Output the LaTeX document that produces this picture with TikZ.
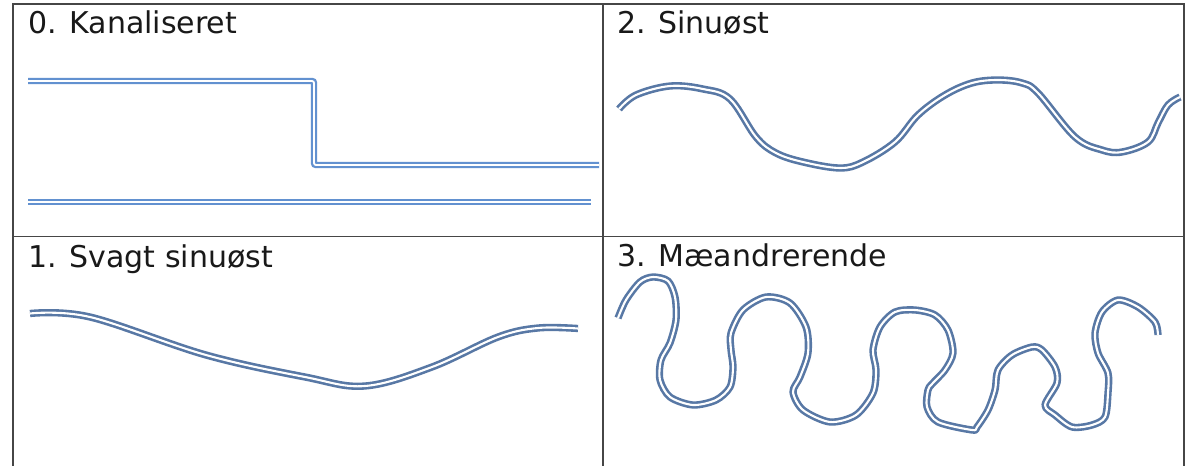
\documentclass[tikz,border=0pt]{standalone}
\usepackage{fontspec}
\setmainfont{DejaVu Sans}
\definecolor{gridc}{RGB}{70,70,70}
\definecolor{canalc}{RGB}{98,145,208}
\definecolor{riverc}{RGB}{88,120,165}
\definecolor{txtc}{RGB}{25,25,25}
\tikzset{
  gridline/.style={draw=gridc, line width=1.5pt},
  canal/.style={draw=canalc, line width=2.3pt, double=white, double distance=1.8pt, rounded corners=2pt},
  river/.style={draw=riverc, line width=2.6pt, double=white, double distance=2.1pt, line join=round},
  lbl/.style={anchor=base west, inner sep=0pt, text=txtc, font=\fontsize{30}{35}\selectfont}
}
\begin{document}
\begin{tikzpicture}[x=1pt,y=-1pt]
\useasboundingbox (0,0) rectangle (1192,466);
\fill[white] (0,0) rectangle (1192,466);
% table grid
\coordinate (tl) at (13,4);
\coordinate (tr) at (1184,4);
\coordinate (ml) at (13,236.5);
\coordinate (mr) at (1184,236.5);
\coordinate (bl) at (13,480);
\coordinate (br) at (1184,480);
\coordinate (tm) at (603,4);
\coordinate (bm) at (603,480);
\draw[gridline] (bl) -- (tl) -- (tr) -- (br);
\draw[gridline] (ml) -- (mr);
\draw[gridline] (tm) -- (bm);
% labels
\node[lbl] (l0) at (28,33) {0. Kanaliseret};
\node[lbl] (l2) at (617,33) {2. Sinuøst};
\node[lbl] (l1) at (28,267) {1. Svagt sinuøst};
\node[lbl] (l3) at (617,266) {3. Mæandrerende};
% panel 0: canalised
\draw[canal] (28,81) -- (314,81) -- (314,165) -- (599,165);
\draw[canal] (28,202) -- (591,202);
% panel 1: weakly sinuous
\draw[river] plot[smooth, tension=0.6] coordinates {
  (30,313.5) (90,317) (206,355) (305,377) (365,386) (432,367)
  (498,337) (538,328) (578,328.5)};
% panel 2: sinuous
\draw[river] plot[smooth, tension=0.6] coordinates {
  (619,109) (636,95) (670,86) (703,89) (730,99) (756,137)
  (776,153) (803,162) (840,168) (863,162) (895,142) (918,115) (945,95)
  (972,83) (998,80) (1022,83) (1038,93) (1075,137) (1102,150)
  (1122,152) (1148,142) (1158,123) (1168,105) (1180,97)};
% panel 3: meandering
\draw[river] plot[smooth, tension=0.5] coordinates {
  (618,318) (626,300) (640,282) (653,277) (668,281) (675,297) (676,320)
  (670,343) (661,360) (660,380) (670,397) (693,405) (716,400) (730,387)
  (733,367) (731,350) (731,333) (743,310) (766,297) (790,303) (806,327)
  (808,353) (800,377) (793,392) (803,410) (830,422) (856,415) (873,393)
  (876,370) (873,350) (880,327) (895,312) (915,310) (935,315) (948,330)
  (953,353) (945,370) (932,384) (928,390) (927,407) (938,422) (972,430)
  (977,427) (988,410) (995,390) (998,370) (1012,355) (1032,347) (1042,350)
  (1055,367) (1057,383) (1045,405) (1055,415) (1072,427) (1092,425)
  (1105,417) (1108,393) (1108,373) (1098,353) (1095,333) (1102,312)
  (1118,300) (1138,307) (1155,322) (1158,335)};
\end{tikzpicture}
\end{document}
